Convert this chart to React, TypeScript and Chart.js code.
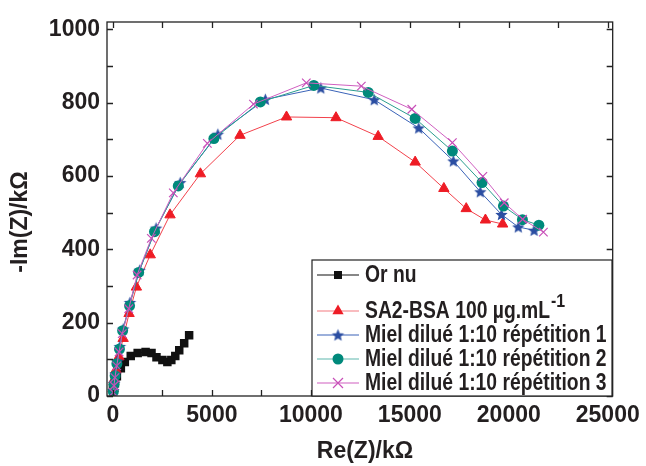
import React, { useEffect, useRef } from 'react';
import { Chart, registerables } from 'chart.js';

Chart.register(...registerables);

// ---- data (Re(Z) in kΩ, -Im(Z) in kΩ) ----
const orNuX = [0, 100, 200, 400, 600, 900, 1250, 1650, 1950, 2200, 2500, 2750, 2950, 3150, 3350, 3600, 3850];
const orNuY = [22, 35, 54, 76, 93, 109, 117, 120, 117, 106, 98, 93, 98, 109, 125, 144, 166];

const sa2X = [15, 50, 150, 300, 515, 815, 1185, 1885, 2885, 4420, 6420, 8770, 11270, 13400, 15270, 16720, 17850, 18820, 19690];
const sa2Y = [21, 44, 71, 107, 157, 225, 297, 385, 494, 606, 711, 761, 759, 708, 638, 566, 511, 480, 469];

const rep1X = [20, 60, 120, 220, 350, 520, 860, 1350, 2180, 3400, 5300, 7700, 10500, 13200, 15450, 17200, 18560, 19630, 20480, 21280];
const rep1Y = [15, 35, 60, 95, 135, 183, 255, 343, 458, 582, 714, 809, 840, 808, 731, 641, 557, 495, 461, 452];

const rep2X = [20, 55, 110, 200, 330, 490, 840, 1300, 2100, 3300, 5100, 7450, 10150, 12900, 15270, 17150, 18650, 19730, 20690, 21520];
const rep2Y = [12, 32, 55, 88, 128, 178, 246, 337, 448, 573, 702, 802, 847, 828, 757, 668, 582, 518, 481, 466];

const rep3X = [15, 50, 100, 190, 310, 470, 800, 1220, 1940, 3050, 4770, 7100, 9770, 12550, 15100, 17150, 18690, 19770, 20700, 21750];
const rep3Y = [10, 28, 50, 82, 120, 170, 238, 330, 430, 554, 689, 796, 854, 845, 782, 691, 599, 527, 482, 447];

const seriesLabels = [
  'Or nu',
  'SA2-BSA 100 µg.mL',
  'Miel dilué 1:10 répétition 1',
  'Miel dilué 1:10 répétition 2',
  'Miel dilué 1:10 répétition 3',
];
const sa2Superscript = '-1';

const xTickValues = [0, 2500, 5000, 7500, 10000, 12500, 15000, 17500, 20000, 22500, 25000];
const yTickValues = [0, 100, 200, 300, 400, 500, 600, 700, 800, 900, 1000];
const xLabelStep = 5000;
const yLabelStep = 200;

const xTitle = 'Re(Z)/kΩ';
const yTitle = '-Im(Z)/kΩ';

// ---- styling ----
const FONT = '"Liberation Sans", Arial, Helvetica, sans-serif';
const TEXT = '#231f20';
const C_BLACK = '#111111';
const C_RED = '#ee1c25';
const C_RED_LINE = '#f2414b';
const C_BLUE = '#2b4ea2';
const C_BLUE_LINE = '#3a63b8';
const C_TEAL = '#00897b';
const C_TEAL_LINE = '#2a9d8f';
const C_MAG = '#c84fb8';
const C_MAG_LINE = '#cf5fc0';

function makeStar(color: string, R: number): HTMLCanvasElement {
  const c = document.createElement('canvas');
  const s = Math.ceil(R * 2 + 2);
  c.width = s;
  c.height = s;
  const ctx = c.getContext('2d')!;
  ctx.translate(s / 2, s / 2 + 0.5);
  ctx.beginPath();
  for (let i = 0; i < 10; i++) {
    const a = -Math.PI / 2 + (i * Math.PI) / 5;
    const r = i % 2 === 0 ? R : R * 0.45;
    const px = Math.cos(a) * r;
    const py = Math.sin(a) * r;
    if (i === 0) ctx.moveTo(px, py);
    else ctx.lineTo(px, py);
  }
  ctx.closePath();
  ctx.fillStyle = color;
  ctx.fill();
  return c;
}

const zip = (xs: number[], ys: number[]) => xs.map((x, i) => ({ x, y: ys[i] }));

export default function App() {
  const ref = useRef<HTMLCanvasElement | null>(null);

  useEffect(() => {
    if (!ref.current) return;
    const star = makeStar(C_BLUE, 6.5);

    const framePlugin = {
      id: 'frameTicks',
      afterDatasetsDraw(chart: any) {
        const { ctx, chartArea: a, scales } = chart;
        ctx.save();
        ctx.strokeStyle = '#222';
        ctx.lineWidth = 1.3;
        ctx.strokeRect(a.left, a.top, a.right - a.left, a.bottom - a.top);
        const L = 6;
        ctx.beginPath();
        for (const v of xTickValues) {
          const px = Math.round(scales.x.getPixelForValue(v)) + 0.5;
          ctx.moveTo(px, a.bottom);
          ctx.lineTo(px, a.bottom - L);
          ctx.moveTo(px, a.top);
          ctx.lineTo(px, a.top + L);
        }
        for (const v of yTickValues) {
          const py = Math.round(scales.y.getPixelForValue(v)) + 0.5;
          ctx.moveTo(a.left, py);
          ctx.lineTo(a.left + L, py);
          ctx.moveTo(a.right, py);
          ctx.lineTo(a.right - L, py);
        }
        ctx.stroke();

        // axis titles
        ctx.fillStyle = TEXT;
        ctx.font = `bold 23px ${FONT}`;
        ctx.textAlign = 'center';
        ctx.textBaseline = 'middle';
        ctx.fillText(xTitle, 365, 452);
        ctx.save();
        ctx.translate(21, 222);
        ctx.rotate(-Math.PI / 2);
        ctx.fillText(yTitle, 0, 0);
        ctx.restore();
        ctx.restore();
      },
    };

    const legendPlugin = {
      id: 'insideLegend',
      afterDraw(chart: any) {
        const { ctx, chartArea: a } = chart;
        ctx.save();
        const bx = 312, by = 260, bw = 300, bh = a.bottom - 260;
        ctx.fillStyle = '#fff';
        ctx.fillRect(bx, by, bw, bh);
        ctx.strokeStyle = '#222';
        ctx.lineWidth = 1.2;
        ctx.strokeRect(bx, by, bw, bh);

        const rows = [275, 311, 335, 359, 383];
        const lineCols = [C_BLACK, '#f47a80', C_BLUE_LINE, '#5fb8ad', C_MAG_LINE];
        const x0 = 317, x1 = 359, mx = 338;
        const sx = 0.84;
        rows.forEach((ry, i) => {
          ctx.strokeStyle = lineCols[i];
          ctx.lineWidth = 1.2;
          ctx.beginPath();
          ctx.moveTo(x0, ry);
          ctx.lineTo(x1, ry);
          ctx.stroke();
          if (i === 0) {
            ctx.fillStyle = C_BLACK;
            ctx.fillRect(mx - 4, ry - 4, 8, 8);
          } else if (i === 1) {
            const r = 6.5;
            ctx.fillStyle = C_RED;
            ctx.beginPath();
            ctx.moveTo(mx, ry - r);
            ctx.lineTo(mx + r * 0.866, ry + r * 0.5);
            ctx.lineTo(mx - r * 0.866, ry + r * 0.5);
            ctx.closePath();
            ctx.fill();
          } else if (i === 2) {
            ctx.drawImage(star, mx - star.width / 2, ry - star.height / 2);
          } else if (i === 3) {
            ctx.fillStyle = C_TEAL;
            ctx.beginPath();
            ctx.arc(mx, ry, 5.5, 0, Math.PI * 2);
            ctx.fill();
          } else {
            ctx.strokeStyle = C_MAG;
            ctx.lineWidth = 1.2;
            const d = 5;
            ctx.beginPath();
            ctx.moveTo(mx - d, ry - d);
            ctx.lineTo(mx + d, ry + d);
            ctx.moveTo(mx - d, ry + d);
            ctx.lineTo(mx + d, ry - d);
            ctx.stroke();
          }
          ctx.save();
          ctx.translate(365, ry + 1);
          ctx.scale(sx, 1);
          ctx.fillStyle = TEXT;
          ctx.font = `bold 23px ${FONT}`;
          ctx.textBaseline = 'middle';
          ctx.textAlign = 'left';
          ctx.fillText(seriesLabels[i], 0, 0);
          if (i === 1) {
            const w = ctx.measureText(seriesLabels[i]).width;
            ctx.font = `bold 19px ${FONT}`;
            ctx.fillText(sa2Superscript, w + 1, -10);
          }
          ctx.restore();
        });
        ctx.restore();
      },
    };

    const font = { family: FONT, size: 23, weight: 'bold' as const };

    const chart = new Chart(ref.current, {
      type: 'scatter',
      data: {
        datasets: [
          {
            label: seriesLabels[0],
            data: zip(orNuX, orNuY),
            showLine: true,
            borderColor: C_BLACK,
            borderWidth: 1,
            pointStyle: 'rect',
            pointRadius: 6,
            pointBackgroundColor: C_BLACK,
            pointBorderColor: C_BLACK,
            pointBorderWidth: 0,
            order: 5,
          },
          {
            label: seriesLabels[1],
            data: zip(sa2X, sa2Y),
            showLine: true,
            borderColor: C_RED_LINE,
            borderWidth: 1,
            pointStyle: 'triangle',
            pointRadius: 6,
            pointBackgroundColor: C_RED,
            pointBorderColor: C_RED,
            pointBorderWidth: 1,
            order: 4,
          },
          {
            label: seriesLabels[2],
            data: zip(rep1X, rep1Y),
            showLine: true,
            borderColor: C_BLUE_LINE,
            borderWidth: 1,
            pointStyle: star,
            pointRadius: 6,
            order: 3,
          },
          {
            label: seriesLabels[3],
            data: zip(rep2X, rep2Y),
            showLine: true,
            borderColor: C_TEAL_LINE,
            borderWidth: 1,
            pointStyle: 'circle',
            pointRadius: 5.5,
            pointBackgroundColor: C_TEAL,
            pointBorderColor: C_TEAL,
            pointBorderWidth: 0,
            order: 2,
          },
          {
            label: seriesLabels[4],
            data: zip(rep3X, rep3Y),
            showLine: true,
            borderColor: C_MAG_LINE,
            borderWidth: 1,
            pointStyle: 'crossRot',
            pointRadius: 6,
            pointBackgroundColor: C_MAG,
            pointBorderColor: C_MAG,
            pointBorderWidth: 1.2,
            order: 1,
          },
        ],
      },
      options: {
        responsive: false,
        animation: false,
        devicePixelRatio: 1,
        layout: { padding: { left: 0, top: 22, right: 29, bottom: 0 } },
        plugins: { legend: { display: false }, tooltip: { enabled: false } },
        scales: {
          x: {
            type: 'linear',
            min: -300,
            max: 25250,
            afterBuildTicks: (s: any) => {
              s.ticks = xTickValues.map((v) => ({ value: v }));
            },
            afterFit: (s: any) => {
              s.height = 70;
            },
            ticks: {
              autoSkip: false,
              maxRotation: 0,
              padding: 6,
              color: TEXT,
              font,
              callback: (v: any) => (Number(v) % xLabelStep === 0 ? String(v) : ''),
            },
            grid: { display: false, drawTicks: false },
            border: { display: false },
            title: { display: false },
          },
          y: {
            type: 'linear',
            min: 0,
            max: 1020,
            afterBuildTicks: (s: any) => {
              s.ticks = yTickValues.map((v) => ({ value: v }));
            },
            afterFit: (s: any) => {
              s.width = 107;
            },
            ticks: {
              autoSkip: false,
              padding: 7,
              color: TEXT,
              font,
              callback: (v: any) => (Number(v) % yLabelStep === 0 ? String(v) : ''),
            },
            grid: { display: false, drawTicks: false },
            border: { display: false },
            title: { display: false },
          },
        },
      },
      plugins: [framePlugin, legendPlugin],
    } as any);

    return () => chart.destroy();
  }, []);

  return (
    <div style={{ position: 'fixed', left: 0, top: 0, width: 646, height: 466, background: '#fff' }}>
      <canvas ref={ref} width={646} height={466} style={{ display: 'block', width: 646, height: 466 }} />
    </div>
  );
}
